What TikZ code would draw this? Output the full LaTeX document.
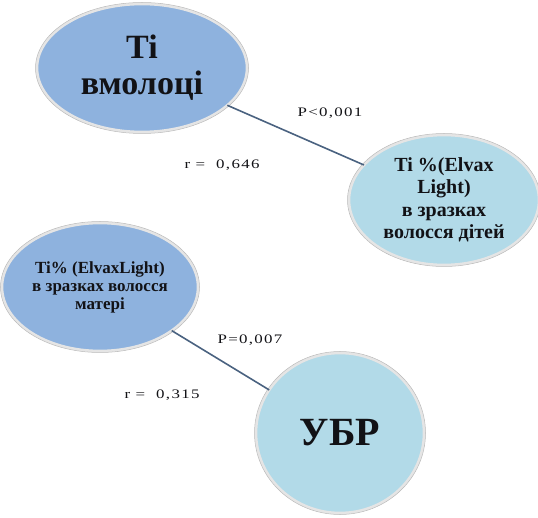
\documentclass[tikz,border=0pt]{standalone}
\usepackage{fontspec}
\setmainfont{Liberation Serif}[BoldFont={Liberation Serif Bold}]
\newfontfamily\statfont[FakeStretch=1.3, LetterSpace=10]{Liberation Serif}
\newfontfamily\headfont{Liberation Serif Bold}
\usetikzlibrary{shapes.geometric}
\definecolor{bubbleblue}{RGB}{142,178,222}
\definecolor{bubbleaqua}{RGB}{178,218,232}
\definecolor{linkline}{RGB}{74,98,128}
\definecolor{inktext}{RGB}{18,18,22}
\tikzset{
  bubble/.style={ellipse, inner sep=0pt, outer sep=0pt, draw=white!90!black,
    line width=2.6pt, text=inktext, align=center},
  darkbubble/.style={bubble, fill=bubbleblue},
  lightbubble/.style={bubble, fill=bubbleaqua},
  rim/.style={draw=black!28, line width=0.5pt},
  link/.style={draw=linkline, line width=1.6pt},
  stat/.style={text=inktext, font=\statfont\fontsize{13}{15}\selectfont, inner sep=1pt}
}
\begin{document}
\begin{tikzpicture}[x=1pt, y=-1pt]
  \useasboundingbox (0,0) rectangle (538,518);

  % bubbles
  \node[darkbubble, minimum width=210pt, minimum height=128pt,
        font=\headfont\fontsize{34}{36}\selectfont] (milk) at (142,68)
    {Ti\\ вмолоці};
  \node[lightbubble, minimum width=190pt, minimum height=130pt,
        font=\headfont\fontsize{20}{22.5}\selectfont] (kids) at (444,200)
    {Ti \%(Elvax\\ Light)\\ в зразках\\ волосся дітей};
  \node[darkbubble, minimum width=196pt, minimum height=128pt,
        font=\headfont\fontsize{17}{18}\selectfont] (mother) at (100,287)
    {Ti\% (ElvaxLight)\\ в зразках волосся\\ матері};
  \node[lightbubble, minimum width=168pt, minimum height=160pt,
        font=\headfont\fontsize{40}{42}\selectfont] (ubr) at (340,433)
    {УБР};

  % thin outer rims
  \draw[rim] (142,68) ellipse [x radius=106.5pt, y radius=65.5pt];
  \draw[rim] (444,200) ellipse [x radius=96.5pt, y radius=66.5pt];
  \draw[rim] (100,287) ellipse [x radius=99.5pt, y radius=65.5pt];
  \draw[rim] (340,433) ellipse [x radius=85.5pt, y radius=81.5pt];

  % connectors
  \draw[link] (milk) -- (kids);
  \draw[link] (mother) -- (ubr);

  % statistics
  \node[stat] (p1) at (330,113) {P<0,001};
  \node[stat] (r1) at (222,165) {r = \ 0,646};
  \node[stat] (p2) at (250,340) {P=0,007};
  \node[stat] (r2) at (162,395) {r = \ 0,315};
\end{tikzpicture}
\end{document}
